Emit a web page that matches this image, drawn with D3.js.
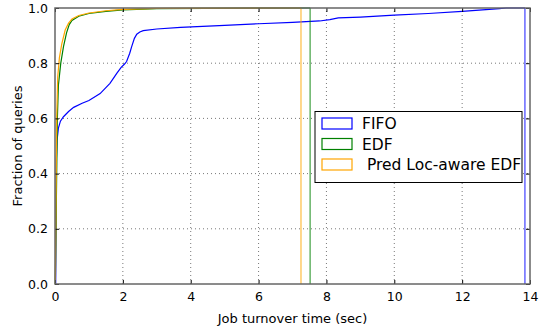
<!DOCTYPE html>
<html>
<head>
  <meta charset="UTF-8" />
  <script src="https://d3js.org/d3.v7.min.js"></script>
  <style>
    body { margin: 0; background: #fff; }
    text { font-family: "DejaVu Sans", sans-serif; fill: #000; }
  </style>
</head>
<body>
<div id="chart"></div>
<script>
  // series (x = seconds, y = cumulative fraction)
  const fifoX = [0.02, 0.04, 0.06, 0.1, 0.16, 0.25, 0.4, 0.55, 0.8, 1.0, 1.33, 1.62, 1.82, 1.95, 2.05, 2.11, 2.2, 2.26, 2.34, 2.41, 2.5, 2.6, 3.0, 3.7, 5, 6, 7, 7.8, 8.1, 8.35, 9, 10, 11, 12, 12.6, 13.1, 13.3, 13.85, 13.85];
  const fifoY = [0, 0.45, 0.52, 0.565, 0.59, 0.606, 0.625, 0.64, 0.655, 0.665, 0.69, 0.727, 0.763, 0.785, 0.797, 0.806, 0.835, 0.86, 0.89, 0.905, 0.913, 0.918, 0.924, 0.93, 0.937, 0.943, 0.948, 0.953, 0.958, 0.964, 0.967, 0.974, 0.98, 0.988, 0.993, 0.998, 1.0, 1.0, 0];

  const edfX = [0.01, 0.04, 0.07, 0.1, 0.17, 0.25, 0.34, 0.42, 0.5, 0.7, 1.0, 1.5, 2.0, 3.0, 7.52, 7.52];
  const edfY = [0, 0.3, 0.6, 0.72, 0.8, 0.86, 0.91, 0.94, 0.955, 0.97, 0.98, 0.988, 0.993, 0.998, 1.0, 0];

  const predX = [0.01, 0.03, 0.05, 0.08, 0.13, 0.2, 0.3, 0.4, 0.5, 0.7, 1.0, 1.5, 2.0, 3.0, 7.25, 7.25];
  const predY = [0, 0.3, 0.6, 0.75, 0.82, 0.87, 0.92, 0.945, 0.96, 0.973, 0.982, 0.99, 0.995, 0.999, 1.0, 0];

  const seriesNames = ["FIFO", "EDF", " Pred Loc-aware EDF"];
  const seriesColors = ["#0000ff", "#008000", "#ffa500"];
  const xTicks = [0, 2, 4, 6, 8, 10, 12, 14];
  const yTicks = [0.0, 0.2, 0.4, 0.6, 0.8, 1.0];

  const width = 539, height = 326;
  const margin = { top: 8, right: 9, bottom: 42, left: 55 };

  const svg = d3.select("#chart").append("svg")
    .attr("width", width)
    .attr("height", height);

  const x = d3.scaleLinear().domain([0, 14]).range([margin.left, width - margin.right]);
  const y = d3.scaleLinear().domain([0, 1]).range([height - margin.bottom, margin.top]);

  // grid
  svg.append("g").selectAll("line")
    .data(xTicks.slice(1, -1))
    .enter().append("line")
    .attr("x1", d => x(d)).attr("x2", d => x(d))
    .attr("y1", y(0)).attr("y2", y(1))
    .attr("stroke", "#555").attr("stroke-width", 0.8)
    .attr("stroke-dasharray", "1,3");
  svg.append("g").selectAll("line")
    .data(yTicks.slice(1, -1))
    .enter().append("line")
    .attr("y1", d => y(d)).attr("y2", d => y(d))
    .attr("x1", x(0)).attr("x2", x(14))
    .attr("stroke", "#555").attr("stroke-width", 0.8)
    .attr("stroke-dasharray", "1,3");

  // curves: body + the final drop back to zero (drawn lighter, as in the source)
  const series = [
    { xs: fifoX, ys: fifoY },
    { xs: edfX, ys: edfY },
    { xs: predX, ys: predY }
  ];
  const line = d3.line().x(d => x(d[0])).y(d => y(d[1]));
  series.forEach((s, i) => {
    const pts = s.xs.map((v, j) => [v, s.ys[j]]);
    svg.append("path")
      .datum(pts.slice(0, -1))
      .attr("fill", "none")
      .attr("stroke", seriesColors[i])
      .attr("stroke-width", 1.2)
      .attr("d", line);
    svg.append("path")
      .datum(pts.slice(-2))
      .attr("fill", "none")
      .attr("stroke", seriesColors[i])
      .attr("stroke-opacity", 0.6)
      .attr("stroke-width", 1.5)
      .attr("d", line);
  });

  // axes, ticks pointing inward on all four sides
  const xAxis = d3.axisBottom(x).tickValues(xTicks).tickFormat(d3.format("d")).tickSizeInner(-4).tickSizeOuter(0).tickPadding(8);
  const yAxis = d3.axisLeft(y).tickValues(yTicks).tickFormat(d3.format(".1f")).tickSizeInner(-4).tickSizeOuter(0).tickPadding(7);
  const gx = svg.append("g").attr("transform", "translate(0," + y(0) + ")").call(xAxis);
  const gy = svg.append("g").attr("transform", "translate(" + x(0) + ",0)").call(yAxis);
  const gxt = svg.append("g").attr("transform", "translate(0," + y(1) + ")")
    .call(d3.axisTop(x).tickValues(xTicks).tickSizeInner(-4).tickSizeOuter(0).tickFormat(""));
  const gyr = svg.append("g").attr("transform", "translate(" + x(14) + ",0)")
    .call(d3.axisRight(y).tickValues(yTicks).tickSizeInner(-4).tickSizeOuter(0).tickFormat(""));
  [gx, gy, gxt, gyr].forEach(g => {
    g.select(".domain").remove();
    g.selectAll(".tick line").attr("stroke", "#000");
    g.selectAll("text").style("font-size", "12.5px").attr("font-family", "DejaVu Sans");
  });

  // frame
  svg.append("rect")
    .attr("x", x(0)).attr("y", y(1))
    .attr("width", x(14) - x(0)).attr("height", y(0) - y(1))
    .attr("fill", "none").attr("stroke", "#666").attr("stroke-width", 1.5);

  // axis labels
  svg.append("text")
    .attr("x", (x(0) + x(14)) / 2).attr("y", 323)
    .attr("text-anchor", "middle").style("font-size", "13px")
    .text("Job turnover time (sec)");
  svg.append("text")
    .attr("transform", "translate(22," + (y(0) + y(1)) / 2 + ") rotate(-90)")
    .attr("text-anchor", "middle").style("font-size", "13px")
    .text("Fraction of queries");

  // legend
  const lg = svg.append("g").attr("transform", "translate(315,111.5)");
  lg.append("rect").attr("width", 207).attr("height", 71)
    .attr("fill", "#fff").attr("stroke", "#000").attr("stroke-width", 1);
  seriesNames.forEach((name, i) => {
    const cy = 12 + i * 20.5;
    lg.append("rect").attr("x", 7).attr("y", cy - 5.5).attr("width", 30).attr("height", 11)
      .attr("fill", "none").attr("stroke", seriesColors[i]).attr("stroke-width", 1.2);
    lg.append("text").attr("x", 47).attr("y", cy + 5.5)
      .style("font-size", "15.5px").style("white-space", "pre")
      .text(name);
  });
</script>
</body>
</html>
